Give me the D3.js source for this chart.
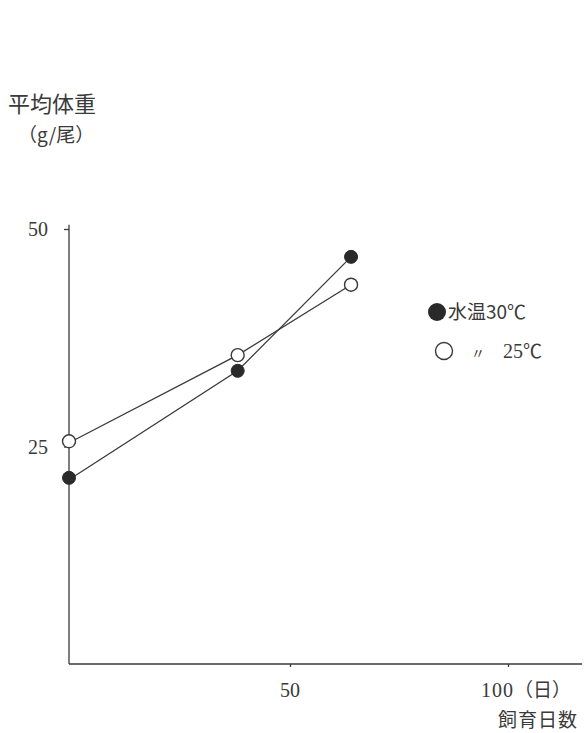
<!DOCTYPE html>
<html><head><meta charset="utf-8">
<script src="https://cdn.jsdelivr.net/npm/d3@7"></script>
<style>body{margin:0;background:#fff}svg{display:block}</style>
</head><body>
<script>
const days = [0, 38, 64];
const temp30 = [21.4, 33.7, 46.8];
const temp25 = [25.6, 35.5, 43.6];
const xTicks = [50, 100];
const yTicks = [25, 50];
const seriesNames = ["水温30℃", "〃", "25"];

const W = 586, H = 733;
const svg = d3.select("body").append("svg").attr("width", W).attr("height", H);
const x = d3.scaleLinear().domain([0, 100]).range([72, 508]);
const y = d3.scaleLinear().domain([0, 50]).range([664, 229]);
const ink = "#3a3a3a";
const serif = "'Liberation Serif','DejaVu Serif',serif";
const cjk = "'Noto Sans CJK JP','Noto Sans CJK SC',sans-serif";

// axes
const xAxis = d3.axisBottom(x).tickValues(xTicks).tickSize(3).tickFormat("");
svg.append("g").attr("transform", `translate(0,${y(0)})`).call(xAxis)
  .call(g => g.select(".domain").attr("d", `M${x(0)-3},0H${x(117)}`));
const yAxis = d3.axisLeft(y).tickValues(yTicks).tickSize(5).tickFormat("");
svg.append("g").attr("transform", `translate(${x(0)-3},0)`).call(yAxis)
  .call(g => g.select(".domain").attr("d", `M0,${y(50.5)}V${y(0)}`));
svg.selectAll(".domain, .tick line").attr("stroke", ink).attr("stroke-width", 1.3);

// tick labels
svg.selectAll(".ylab").data(yTicks).enter().append("text")
  .attr("x", 48).attr("y", d => y(d) + 7).attr("text-anchor", "end")
  .attr("font-family", serif).attr("font-size", 20).attr("fill", ink).text(d => d);
svg.append("text").attr("x", x(50)).attr("y", 697).attr("text-anchor", "middle")
  .attr("font-family", serif).attr("font-size", 20).attr("fill", ink).text(xTicks[0]);
svg.append("text").attr("x", x(100) + 6).attr("y", 697).attr("text-anchor", "end")
  .attr("font-family", serif).attr("font-size", 20).attr("letter-spacing", 1).attr("fill", ink).text(xTicks[1]);
svg.append("text").attr("x", 514).attr("y", 697)
  .attr("font-family", cjk).attr("font-size", 19).attr("fill", ink).text("（日）");
svg.append("text").attr("x", 578).attr("y", 727).attr("text-anchor", "end")
  .attr("font-family", cjk).attr("font-size", 19).attr("fill", ink).attr("letter-spacing", 1).text("飼育日数");

// y title
svg.append("text").attr("x", 8).attr("y", 112)
  .attr("font-family", cjk).attr("font-size", 22).attr("fill", ink).text("平均体重");
svg.append("text").attr("x", 18).attr("y", 142)
  .attr("font-family", cjk).attr("font-size", 19).attr("fill", ink).text("（g/尾）");

// lines
const line = d3.line().x((d, i) => x(days[i])).y(d => y(d));
[temp30, temp25].forEach(s => {
  svg.append("path").attr("d", line(s)).attr("fill", "none").attr("stroke", ink).attr("stroke-width", 1.3);
});
// points
svg.selectAll(".p30").data(temp30).enter().append("circle")
  .attr("cx", (d, i) => x(days[i]) - (i === 0 ? 3 : 0)).attr("cy", d => y(d)).attr("r", 6.5)
  .attr("fill", "#2a2a2a").attr("stroke", "#2a2a2a");
svg.selectAll(".p25").data(temp25).enter().append("circle")
  .attr("cx", (d, i) => x(days[i]) - (i === 0 ? 3 : 0)).attr("cy", d => y(d)).attr("r", 6.5)
  .attr("fill", "#fff").attr("stroke", ink).attr("stroke-width", 1.4);

// legend
svg.append("circle").attr("cx", 437).attr("cy", 312).attr("r", 9).attr("fill", "#2a2a2a");
svg.append("text").attr("x", 448).attr("y", 319)
  .attr("font-family", cjk).attr("font-size", 19).attr("fill", ink).text(seriesNames[0]);
svg.append("circle").attr("cx", 444).attr("cy", 351).attr("r", 8.5).attr("fill", "#fff")
  .attr("stroke", ink).attr("stroke-width", 1.4);
svg.append("text").attr("x", 478).attr("y", 358).attr("text-anchor", "middle")
  .attr("font-family", cjk).attr("font-size", 14).attr("fill", ink).text(seriesNames[1]);
const t25 = svg.append("text").attr("x", 503).attr("y", 358)
  .attr("font-family", serif).attr("font-size", 20).attr("fill", ink);
t25.append("tspan").text(seriesNames[2]);
t25.append("tspan").attr("font-family", cjk).attr("font-size", 19).text("℃");
</script>
</body></html>
